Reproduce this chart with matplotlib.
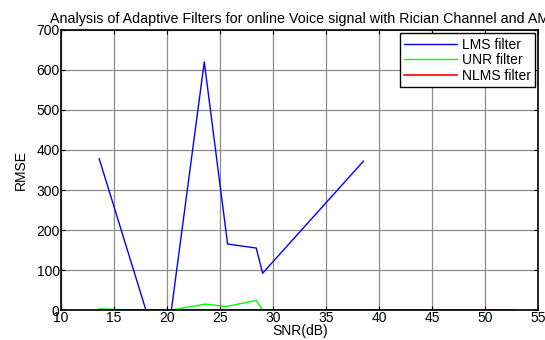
import matplotlib
matplotlib.use("Agg")
import matplotlib.pyplot as plt

plt.rcParams['font.family'] = ['Liberation Sans', 'DejaVu Sans']

snr_lms = [13.6, 18.0, 20.4, 23.5, 25.7, 28.4, 29.0, 38.5]
rmse_lms = [378, 0, 0, 620, 165, 155, 92, 372]

snr_unr = [13.6, 14.9, 16.5, 20.4, 23.6, 25.6, 28.4, 29.0, 38.5]
rmse_unr = [3, 2, 0, 0, 15, 9, 24, 0, 0]

snr_nlms = [13.3, 53.0]
rmse_nlms = [0, 0]

xticks = [10, 15, 20, 25, 30, 35, 40, 45, 50, 55]
yticks = [0, 100, 200, 300, 400, 500, 600, 700]

fig = plt.figure(figsize=(5.45, 3.4), dpi=100)
ax = fig.add_axes([0.112, 0.088, 0.876, 0.824])

ax.plot(snr_lms, rmse_lms, color='#0000ff', lw=1.0, label='LMS filter')
ax.plot(snr_unr, rmse_unr, color='#00ff00', lw=1.0, label='UNR filter')
ax.plot(snr_nlms, rmse_nlms, color='#ff0000', lw=1.2, label='NLMS filter')

ax.set_xlim(10, 55)
ax.set_ylim(0, 700)
ax.set_xticks(xticks)
ax.set_yticks(yticks)
ax.grid(True, color='#8c8c8c', linestyle='-', lw=0.9)
ax.tick_params(direction='in', top=True, right=True, labelsize=10, length=3, pad=1)
for s in ax.spines.values():
    s.set_linewidth(1.2)

ax.set_xlabel('SNR(dB)', fontsize=10, labelpad=-1)
ax.set_ylabel('RMSE', fontsize=10, labelpad=6)
ax.set_title('Analysis of Adaptive Filters for online Voice signal with Rician Channel and AM',
             fontsize=10.3, pad=5)

leg = ax.legend(loc='upper right', fontsize=10, fancybox=False, framealpha=1,
                edgecolor='k', borderaxespad=0.25, handlelength=3.8,
                labelspacing=0.12, borderpad=0.3, handletextpad=0.35)
leg.get_frame().set_linewidth(1.0)

fig.savefig('out.png', dpi=100)
